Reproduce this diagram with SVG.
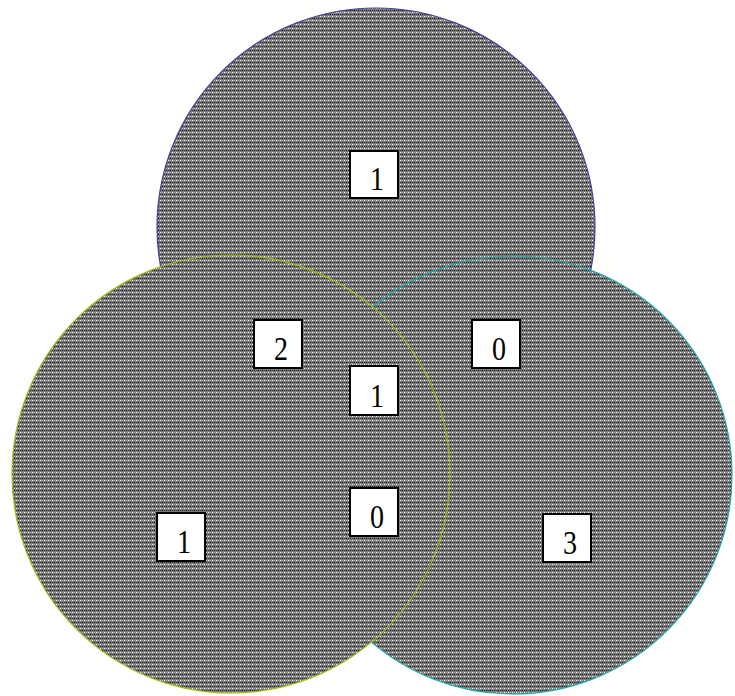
<svg xmlns="http://www.w3.org/2000/svg" width="735" height="696" viewBox="0 0 735 696">
<defs>
<pattern id="chk" patternUnits="userSpaceOnUse" width="4" height="4">
<rect width="4" height="4" fill="#7a7a7a"/>
<rect x="0" y="0" width="1" height="1" fill="#ffffff"/>
<rect x="2" y="2" width="1" height="1" fill="#000000"/>
<rect x="2" y="0" width="1" height="1" fill="#b8b8b8"/>
<rect x="0" y="2" width="1" height="1" fill="#383838"/>
</pattern>
</defs>
<style>
.c{fill:url(#chk);stroke-width:1.2}
.b{fill:#ffffff;stroke:#000000;stroke-width:2}
.t{font-family:"Liberation Serif","Times New Roman",serif;font-size:33px;fill:#000000;text-anchor:middle}
</style>
<rect width="735" height="696" fill="#ffffff"/>
<g id="circle-top"><circle class="c" cx="376" cy="227" r="219" stroke="#4040a0"/></g>
<g id="circle-right"><circle class="c" cx="513" cy="475" r="219" stroke="#20a8a8"/></g>
<g id="circle-left"><circle class="c" cx="231" cy="474" r="219" stroke="#99c010"/></g>
<g id="connectors"></g>
<g id="label-top"><rect class="b" x="350" y="151" width="48" height="47"/><text class="t" transform="translate(377 190) scale(0.85 1)">1</text></g>
<g id="label-2"><rect class="b" x="254" y="320" width="48" height="48"/><text class="t" transform="translate(281 360) scale(0.85 1)">2</text></g>
<g id="label-0a"><rect class="b" x="472" y="320" width="48" height="48"/><text class="t" transform="translate(499 360) scale(0.85 1)">0</text></g>
<g id="label-1mid"><rect class="b" x="350" y="366" width="48" height="49"/><text class="t" transform="translate(377 407) scale(0.85 1)">1</text></g>
<g id="label-0mid"><rect class="b" x="350" y="488" width="48" height="48"/><text class="t" transform="translate(377 528) scale(0.85 1)">0</text></g>
<g id="label-1left"><rect class="b" x="157" y="513" width="48" height="48"/><text class="t" transform="translate(184 553) scale(0.85 1)">1</text></g>
<g id="label-3"><rect class="b" x="543" y="514" width="48" height="48"/><text class="t" transform="translate(570 554) scale(0.85 1)">3</text></g>
</svg>
